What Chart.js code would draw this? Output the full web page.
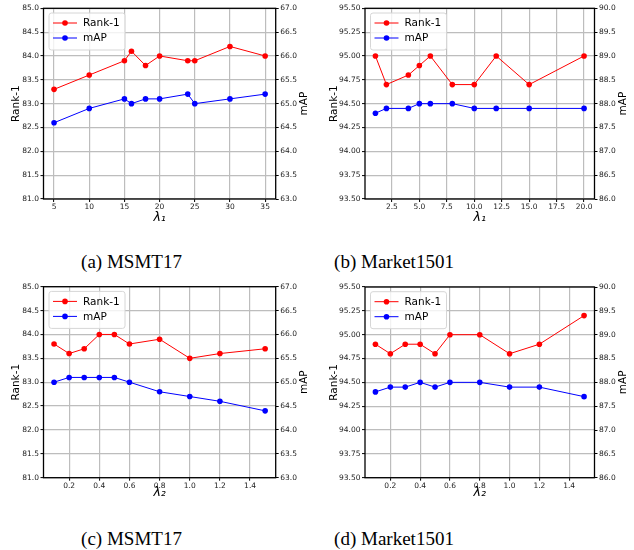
<!DOCTYPE html>
<html><head><meta charset="utf-8">
<script src="https://cdn.jsdelivr.net/npm/chart.js@4.4.0/dist/chart.umd.min.js"></script>
<style>
html,body{margin:0;padding:0;background:#fff}
body{width:634px;height:550px;position:relative;overflow:hidden}
canvas{position:absolute}
.cap{position:absolute;font-family:'Liberation Serif','Times New Roman',serif;font-size:19px;line-height:20px;color:#000;white-space:nowrap;transform:translateX(-50%)}
</style></head><body>
<canvas id="c0" width="317" height="232" style="left:0px;top:0px"></canvas>
<canvas id="c1" width="317" height="232" style="left:317px;top:0px"></canvas>
<canvas id="c2" width="317" height="232" style="left:0px;top:275px"></canvas>
<canvas id="c3" width="317" height="232" style="left:317px;top:275px"></canvas>
<div class="cap" id="cap0" style="left:131.5px;top:252px"></div>
<div class="cap" id="cap1" style="left:394px;top:252px"></div>
<div class="cap" id="cap2" style="left:131.5px;top:529px"></div>
<div class="cap" id="cap3" style="left:394px;top:529px"></div>
<script>
// ---------- data ----------
const seriesNames = ['Rank-1', 'mAP'];
const captions = ['(a) MSMT17', '(b) Market1501', '(c) MSMT17', '(d) Market1501'];
const xTitles = ['λ₁', 'λ₁', 'λ₂', 'λ₂'];
const yTitleLeft = 'Rank-1';
const yTitleRight = 'mAP';

const lambda1MSMT = [5, 10, 15, 16, 18, 20, 24, 25, 30, 35];
const rank1MSMT_l1 = [83.3, 83.6, 83.9, 84.1, 83.8, 84.0, 83.9, 83.9, 84.2, 84.0];
const mapMSMT_l1 = [64.6, 64.9, 65.1, 65.0, 65.1, 65.1, 65.2, 65.0, 65.1, 65.2];

const lambda1Market = [1, 2, 4, 5, 6, 8, 10, 12, 15, 20];
const rank1Market_l1 = [95.0, 94.7, 94.8, 94.9, 95.0, 94.7, 94.7, 95.0, 94.7, 95.0];
const mapMarket_l1 = [87.8, 87.9, 87.9, 88.0, 88.0, 88.0, 87.9, 87.9, 87.9, 87.9];

const lambda2 = [0.1, 0.2, 0.3, 0.4, 0.5, 0.6, 0.8, 1.0, 1.2, 1.5];
const rank1MSMT_l2 = [83.8, 83.6, 83.7, 84.0, 84.0, 83.8, 83.9, 83.5, 83.6, 83.7];
const mapMSMT_l2 = [65.0, 65.1, 65.1, 65.1, 65.1, 65.0, 64.8, 64.7, 64.6, 64.4];
const rank1Market_l2 = [94.9, 94.8, 94.9, 94.9, 94.8, 95.0, 95.0, 94.8, 94.9, 95.2];
const mapMarket_l2 = [87.8, 87.9, 87.9, 88.0, 87.9, 88.0, 88.0, 87.9, 87.9, 87.7];

const xTicksL1MSMT = [5, 10, 15, 20, 25, 30, 35];
const xTicksL1Market = [2.5, 5.0, 7.5, 10.0, 12.5, 15.0, 17.5, 20.0];
const xTicksL2 = [0.2, 0.4, 0.6, 0.8, 1.0, 1.2, 1.4];
const rankTicksMSMT = [81.0, 81.5, 82.0, 82.5, 83.0, 83.5, 84.0, 84.5, 85.0];
const mapTicksMSMT = [63.0, 63.5, 64.0, 64.5, 65.0, 65.5, 66.0, 66.5, 67.0];
const rankTicksMarket = [93.50, 93.75, 94.00, 94.25, 94.50, 94.75, 95.00, 95.25, 95.50];
const mapTicksMarket = [86.0, 86.5, 87.0, 87.5, 88.0, 88.5, 89.0, 89.5, 90.0];

// ---------- layout (absolute page coords) ----------
const panels = [
  {id:'c0', cx:0,   cy:0,   x:lambda1MSMT,   r:rank1MSMT_l1,   m:mapMSMT_l1,   xt:xTicksL1MSMT,   xd:0, lt:rankTicksMSMT,   ld:1, rt:mapTicksMSMT,   area:{l:43.5, t:8.3, r:275.7, b:199}},
  {id:'c1', cx:317, cy:0,   x:lambda1Market, r:rank1Market_l1, m:mapMarket_l1, xt:xTicksL1Market, xd:1, lt:rankTicksMarket, ld:2, rt:mapTicksMarket, area:{l:365, t:8.3, r:594.5, b:199}},
  {id:'c2', cx:0,   cy:275, x:lambda2,       r:rank1MSMT_l2,   m:mapMSMT_l2,   xt:xTicksL2,       xd:1, lt:rankTicksMSMT,   ld:1, rt:mapTicksMSMT,   area:{l:43.5, t:286.7, r:275.7, b:477.7}},
  {id:'c3', cx:317, cy:275, x:lambda2,       r:rank1Market_l2, m:mapMarket_l2, xt:xTicksL2,       xd:1, lt:rankTicksMarket, ld:2, rt:mapTicksMarket, area:{l:365, t:287, r:594.5, b:477.7}}
];
const CW = 317, CH = 232;
const RED = '#ff0000', BLUE = '#0000ff';
const tickFont = {family:'DejaVu Sans', size:7.5};
const tickColor = '#222';
const gridColor = '#bdbdbd';

const framePlugin = {
  id:'frame',
  afterDatasetsDraw(chart) {
    const {ctx, chartArea:a} = chart;
    ctx.save();
    ctx.strokeStyle = '#000';
    ctx.lineWidth = 1.3;
    ctx.strokeRect(a.left, a.top, a.right - a.left, a.bottom - a.top);
    ctx.restore();
  }
};
const rightTitlePlugin = {
  id:'rightTitle',
  afterDraw(chart, args, o) {
    const {ctx, chartArea:a} = chart;
    ctx.save();
    ctx.translate(a.right + o.offset, (a.top + a.bottom) / 2);
    ctx.rotate(-Math.PI / 2);
    ctx.font = '10.5px "DejaVu Sans"';
    ctx.fillStyle = '#000';
    ctx.textAlign = 'center';
    ctx.textBaseline = 'middle';
    ctx.fillText(o.text, 0, 0);
    ctx.restore();
  }
};
const insideLegendPlugin = {
  id:'insideLegend',
  afterDraw(chart) {
    const {ctx, chartArea:a} = chart;
    const x = a.left + 5.5, y = a.top + 4.7, w = 76, h = 37, rr = 2.5;
    ctx.save();
    ctx.beginPath();
    ctx.moveTo(x + rr, y);
    ctx.arcTo(x + w, y, x + w, y + h, rr);
    ctx.arcTo(x + w, y + h, x, y + h, rr);
    ctx.arcTo(x, y + h, x, y, rr);
    ctx.arcTo(x, y, x + w, y, rr);
    ctx.closePath();
    ctx.fillStyle = 'rgba(255,255,255,0.8)';
    ctx.fill();
    ctx.strokeStyle = '#d6d6d6';
    ctx.lineWidth = 1;
    ctx.stroke();
    chart.data.datasets.forEach((ds, i) => {
      const yy = y + 10 + i * 15;
      ctx.strokeStyle = ds.borderColor;
      ctx.lineWidth = 1;
      ctx.beginPath();
      ctx.moveTo(x + 4, yy); ctx.lineTo(x + 28, yy); ctx.stroke();
      ctx.fillStyle = ds.borderColor;
      ctx.beginPath(); ctx.arc(x + 16, yy, 2.8, 0, Math.PI * 2); ctx.fill();
      ctx.fillStyle = '#000';
      ctx.font = '10.5px "DejaVu Sans"';
      ctx.textAlign = 'left';
      ctx.textBaseline = 'middle';
      ctx.fillText(ds.label, x + 34, yy + 0.5);
    });
    ctx.restore();
  }
};

function setTicks(arr) { return s => { s.ticks = arr.map(v => ({value:v})); }; }

panels.forEach((p, i) => {
  const xr = p.x[p.x.length - 1] - p.x[0];
  const xmin = p.x[0] - 0.05 * xr, xmax = p.x[p.x.length - 1] + 0.05 * xr;
  const a = p.area;
  const lw = a.l - p.cx, rw = p.cx + CW - a.r, bh = p.cy + CH - a.b, tp = a.t - p.cy;
  new Chart(document.getElementById(p.id), {
    type:'line',
    data:{
      datasets:[
        {label:seriesNames[0], data:p.x.map((v, k) => ({x:v, y:p.r[k]})), yAxisID:'y', borderColor:RED, backgroundColor:RED, pointBackgroundColor:RED, borderWidth:1, pointRadius:2.8, pointBorderWidth:0, tension:0},
        {label:seriesNames[1], data:p.x.map((v, k) => ({x:v, y:p.m[k]})), yAxisID:'y2', borderColor:BLUE, backgroundColor:BLUE, pointBackgroundColor:BLUE, borderWidth:1, pointRadius:2.8, pointBorderWidth:0, tension:0}
      ]
    },
    options:{
      responsive:false, animation:false, events:[], devicePixelRatio:1,
      layout:{padding:{top:tp, left:0, right:0, bottom:0}},
      plugins:{legend:{display:false}, tooltip:{enabled:false}, rightTitle:{text:yTitleRight, offset:29}},
      scales:{
        x:{type:'linear', position:'bottom', min:xmin, max:xmax,
           afterBuildTicks:setTicks(p.xt),
           afterFit:s => { s.height = bh; },
           ticks:{font:tickFont, color:tickColor, padding:1, maxRotation:0, autoSkip:false, callback:v => v.toFixed(p.xd)},
           grid:{color:gridColor, lineWidth:1.2, tickColor:'#000', tickLength:3, tickWidth:1},
           border:{display:false},
           title:{display:true, text:xTitles[i], font:{family:'DejaVu Sans', size:12.5, style:'italic'}, color:'#000', padding:{top:0, bottom:6.5}}},
        y:{type:'linear', position:'left', min:p.lt[0], max:p.lt[p.lt.length - 1],
           afterBuildTicks:setTicks(p.lt),
           afterFit:s => { s.width = lw; },
           ticks:{font:tickFont, color:tickColor, padding:1.5, callback:v => v.toFixed(p.ld)},
           grid:{color:gridColor, lineWidth:1.2, tickColor:'#000', tickLength:3, tickWidth:1},
           border:{display:false},
           title:{display:true, text:yTitleLeft, font:{family:'DejaVu Sans', size:10.5}, color:'#000', padding:{top:i % 2 ? 10.5 : 9.5, bottom:0}}},
        y2:{type:'linear', position:'right', min:p.rt[0], max:p.rt[p.rt.length - 1],
           afterBuildTicks:setTicks(p.rt),
           afterFit:s => { s.width = rw; },
           ticks:{font:tickFont, color:tickColor, padding:1.5, callback:v => v.toFixed(1)},
           grid:{drawOnChartArea:false, tickColor:'#000', tickLength:3, tickWidth:1},
           border:{display:false}}
      }
    },
    plugins:[framePlugin, rightTitlePlugin, insideLegendPlugin]
  });
  document.getElementById('cap' + i).textContent = captions[i];
});
</script>
</body></html>
